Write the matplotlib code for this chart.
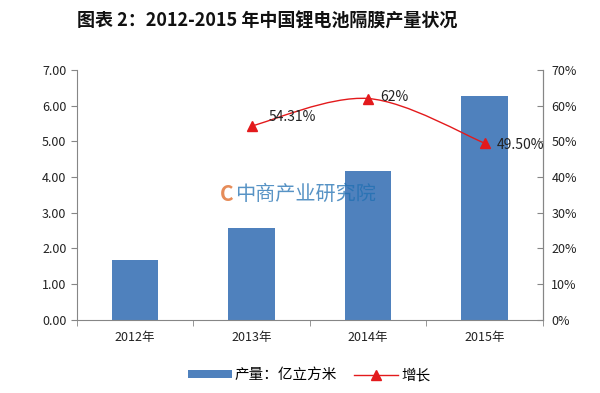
import matplotlib
matplotlib.use("Agg")
import matplotlib.pyplot as plt
from matplotlib.path import Path
from matplotlib.patches import PathPatch
from matplotlib.lines import Line2D
from matplotlib.patches import Patch
import numpy as np

plt.rcParams['font.family'] = ['Noto Sans CJK SC', 'DejaVu Sans']

# data
years = ['2012年', '2013年', '2014年', '2015年']
output = [1.68, 2.58, 4.17, 6.26]          # 产量：亿立方米
growth_years = ['2013年', '2014年', '2015年']
growth = [54.31, 62.0, 49.50]             # 增长 (%)
growth_labels = ['54.31%', '62%', '49.50%']

bar_color = '#4f81bd'
line_color = '#e31a1c'
axis_color = '#868686'

fig = plt.figure(figsize=(6, 3.93), dpi=100)
ax = fig.add_axes([0.128, 0.186, 0.777, 0.636])

x = np.arange(len(years))
ax.bar(x, output, width=0.4, color=bar_color, zorder=2)
ax.set_xlim(-0.5, len(years) - 0.5)
ax.set_ylim(0, 7)
ax.set_yticks(np.arange(0, 7.01, 1))
ax.set_yticklabels([f'{v:.2f}' for v in np.arange(0, 7.01, 1)])
ax.set_xticks(x)
ax.set_xticklabels(years)
ax.set_xticks(np.arange(-0.5, len(years), 1), minor=True)
ax.tick_params(axis='x', which='major', length=0, pad=8)
ax.tick_params(axis='x', which='minor', length=4, color=axis_color)
ax.tick_params(axis='y', length=4, color=axis_color, direction='out')
ax.tick_params(labelsize=9, labelcolor='#222222')
ax.spines['top'].set_visible(False)
for s in ['left', 'bottom', 'right']:
    ax.spines[s].set_color(axis_color)

ax2 = ax.twinx()
ax2.set_ylim(0, 70)
ax2.set_yticks(np.arange(0, 71, 10))
ax2.set_yticklabels([f'{v}%' for v in range(0, 71, 10)])
ax2.tick_params(axis='y', length=4, color=axis_color, direction='in', labelsize=9,
                labelcolor='#222222', pad=6)
ax2.spines['top'].set_visible(False)
ax2.spines['right'].set_color(axis_color)
ax2.spines['left'].set_visible(False)
ax2.spines['bottom'].set_visible(False)

# smooth line through the growth points (Catmull-Rom as cubic Bezier)
gx = [years.index(y) for y in growth_years]
pts = np.column_stack([gx, growth]).astype(float)
verts = [tuple(pts[0])]
codes = [Path.MOVETO]
n = len(pts)
for i in range(n - 1):
    p0 = pts[i - 1] if i > 0 else pts[i]
    p1 = pts[i]
    p2 = pts[i + 1]
    p3 = pts[i + 2] if i + 2 < n else pts[i + 1]
    c1 = p1 + (p2 - p0) / 6.0
    c2 = p2 - (p3 - p1) / 6.0
    verts += [tuple(c1), tuple(c2), tuple(p2)]
    codes += [Path.CURVE4] * 3
ax2.add_patch(PathPatch(Path(verts, codes), fill=False, edgecolor=line_color,
                        lw=1.0, zorder=3))
ax2.plot(gx, growth, linestyle='none', marker='^', markersize=6.5,
         color=line_color, zorder=4)

offsets = [(0.15, 2.5), (0.1, 0.3), (0.1, -0.5)]
for xi, yi, lab, (dx, dy) in zip(gx, growth, growth_labels, offsets):
    ax2.text(xi + dx, yi + dy, lab, fontsize=10, color='#222222',
             ha='left', va='center', zorder=5)

# watermark
fig.text(0.378, 0.505, 'C', fontsize=15, color='#e07030', ha='center',
         va='center', fontweight='bold', alpha=0.8)
fig.text(0.392, 0.505, '中商产业研究院', fontsize=14.5, color='#1f6fb2',
         ha='left', va='center', alpha=0.75)

fig.text(0.445, 0.947, '图表 2：2012-2015 年中国锂电池隔膜产量状况', fontsize=13,
         fontweight='bold', ha='center', va='center', color='#111111')

handles = [Patch(facecolor=bar_color, edgecolor='none'),
           Line2D([0], [0], color=line_color, marker='^', markersize=6.5, lw=1)]
fig.legend(handles, ['产量：亿立方米', '增长'], loc='center',
           bbox_to_anchor=(0.515, 0.045), ncol=2, frameon=False, fontsize=10.5,
           handlelength=3.0, handleheight=0.5, columnspacing=1.2,
           handletextpad=0.2)

fig.savefig('out.png', dpi=100)
